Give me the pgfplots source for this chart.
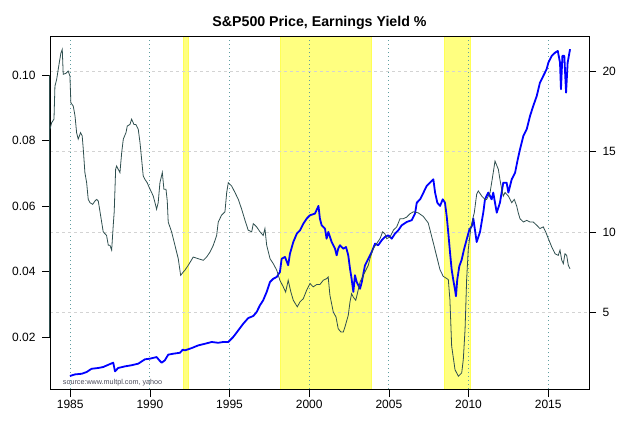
\documentclass[border=0pt]{standalone}
\usepackage{fontspec}
\setmainfont{Liberation Sans}
\usepackage{pgfplots}
\usepackage{pgfplotstable}
\pgfplotsset{compat=1.18}
\definecolor{eyline}{HTML}{2F4F4F}
\definecolor{vgrid}{HTML}{5F9EA0}
\definecolor{hgrid}{HTML}{D3D3D3}
\definecolor{band}{HTML}{FFFF80}
\definecolor{bandedge}{HTML}{FFFF55}
\definecolor{srcgray}{HTML}{4A4A5A}

% earnings yield (left axis)
\pgfplotstableread{
year ey
1983.73 0.0835
1983.83 0.0855
1983.98 0.0866
1984.04 0.0967
1984.15 0.0988
1984.31 0.1038
1984.42 0.1069
1984.50 0.1079
1984.56 0.1003
1984.73 0.1006
1984.87 0.1013
1984.98 0.0998
1985.04 0.0916
1985.19 0.0906
1985.30 0.0876
1985.40 0.0825
1985.50 0.0805
1985.65 0.0825
1985.75 0.0815
1985.82 0.0774
1985.92 0.0703
1986.03 0.0672
1986.13 0.0621
1986.24 0.0611
1986.41 0.0606
1986.55 0.0616
1986.66 0.0621
1986.76 0.0616
1986.86 0.0586
1987.07 0.0522
1987.28 0.0511
1987.39 0.0481
1987.49 0.0481
1987.60 0.0466
1987.70 0.0542
1987.76 0.0583
1987.85 0.0713
1987.91 0.0723
1988.01 0.0713
1988.12 0.0703
1988.23 0.0764
1988.33 0.0805
1988.50 0.0825
1988.58 0.0845
1988.75 0.0850
1988.85 0.0866
1989.00 0.0850
1989.12 0.0850
1989.27 0.0835
1989.38 0.0794
1989.48 0.0744
1989.58 0.0693
1989.69 0.0682
1989.83 0.0672
1989.96 0.0657
1990.11 0.0642
1990.21 0.0631
1990.32 0.0611
1990.42 0.0591
1990.52 0.0611
1990.63 0.0672
1990.78 0.0703
1990.88 0.0652
1991.01 0.0652
1991.09 0.0616
1991.15 0.0552
1991.36 0.0522
1991.57 0.0481
1991.78 0.0440
1991.93 0.0389
1992.09 0.0399
1992.20 0.0405
1992.41 0.0420
1992.72 0.0445
1993.03 0.0440
1993.35 0.0435
1993.56 0.0445
1993.77 0.0460
1993.98 0.0481
1994.19 0.0511
1994.29 0.0552
1994.50 0.0573
1994.71 0.0583
1994.82 0.0642
1994.92 0.0672
1995.13 0.0662
1995.34 0.0642
1995.55 0.0621
1995.76 0.0591
1995.97 0.0557
1996.17 0.0527
1996.39 0.0522
1996.49 0.0547
1996.70 0.0537
1996.91 0.0522
1997.11 0.0511
1997.22 0.0532
1997.33 0.0481
1997.54 0.0440
1997.74 0.0425
1997.96 0.0405
1998.16 0.0374
1998.37 0.0354
1998.52 0.0338
1998.68 0.0374
1998.85 0.0338
1999.00 0.0313
1999.25 0.0293
1999.42 0.0308
1999.63 0.0318
1999.84 0.0344
2000.05 0.0364
2000.25 0.0354
2000.47 0.0361
2000.67 0.0361
2000.88 0.0374
2001.09 0.0379
2001.19 0.0384
2001.30 0.0328
2001.51 0.0277
2001.68 0.0262
2001.82 0.0226
2001.99 0.0216
2002.14 0.0216
2002.24 0.0231
2002.45 0.0267
2002.56 0.0308
2002.66 0.0333
2002.76 0.0323
2002.92 0.0313
2003.02 0.0333
2003.19 0.0369
2003.39 0.0389
2003.71 0.0420
2003.81 0.0440
2004.02 0.0471
2004.23 0.0486
2004.44 0.0501
2004.61 0.0522
2004.75 0.0516
2004.86 0.0501
2005.07 0.0506
2005.28 0.0527
2005.49 0.0537
2005.70 0.0562
2005.90 0.0562
2006.12 0.0567
2006.32 0.0577
2006.53 0.0583
2006.84 0.0580
2007.16 0.0569
2007.47 0.0549
2007.79 0.0488
2008.00 0.0447
2008.21 0.0406
2008.41 0.0386
2008.58 0.0381
2008.73 0.0376
2008.83 0.0315
2008.94 0.0173
2009.15 0.0101
2009.36 0.0081
2009.57 0.0091
2009.67 0.0132
2009.78 0.0223
2009.88 0.0376
2009.98 0.0467
2010.13 0.0529
2010.30 0.0569
2010.36 0.0580
2010.51 0.0637
2010.61 0.0647
2010.83 0.0631
2011.03 0.0621
2011.14 0.0621
2011.24 0.0631
2011.35 0.0642
2011.45 0.0672
2011.55 0.0703
2011.66 0.0738
2011.87 0.0713
2011.97 0.0682
2012.08 0.0652
2012.18 0.0631
2012.29 0.0642
2012.50 0.0631
2012.71 0.0611
2012.87 0.0621
2013.02 0.0601
2013.12 0.0580
2013.23 0.0562
2013.44 0.0552
2013.65 0.0557
2013.86 0.0552
2014.06 0.0552
2014.28 0.0542
2014.48 0.0532
2014.69 0.0537
2014.84 0.0522
2015.01 0.0501
2015.22 0.0476
2015.43 0.0455
2015.63 0.0450
2015.74 0.0466
2015.85 0.0435
2015.95 0.0425
2016.05 0.0455
2016.16 0.0450
2016.26 0.0420
2016.37 0.0409
}\eytable

% price / 100 (right axis)
\pgfplotstableread{
year price
1984.98 1.03
1985.30 1.13
1985.72 1.17
1986.03 1.28
1986.34 1.48
1986.76 1.53
1987.07 1.59
1987.39 1.73
1987.70 1.86
1987.81 1.32
1988.01 1.53
1988.43 1.63
1988.85 1.70
1989.27 1.80
1989.69 2.07
1990.00 2.11
1990.42 2.21
1990.59 2.01
1990.74 1.86
1990.94 2.01
1991.15 2.36
1991.47 2.42
1991.89 2.48
1992.06 2.67
1992.20 2.63
1992.62 2.77
1993.04 2.94
1993.46 3.04
1993.88 3.15
1994.29 3.10
1994.60 3.15
1994.92 3.15
1995.23 3.46
1995.55 3.88
1995.86 4.29
1996.17 4.64
1996.49 4.77
1996.70 5.02
1996.91 5.44
1997.11 5.75
1997.33 6.27
1997.54 6.89
1997.74 7.09
1997.96 7.20
1998.16 7.51
1998.27 8.34
1998.48 8.45
1998.68 7.93
1998.79 8.65
1999.00 9.38
1999.22 9.90
1999.42 10.11
1999.63 10.52
1999.84 10.84
2000.05 11.05
2000.36 11.15
2000.58 11.63
2000.67 10.84
2000.78 10.42
2000.99 10.21
2001.09 9.59
2001.20 10.01
2001.41 9.38
2001.62 8.96
2001.72 8.55
2001.82 8.96
2001.93 9.18
2002.14 8.96
2002.31 9.07
2002.45 8.55
2002.56 7.72
2002.66 7.09
2002.77 6.27
2002.87 7.31
2002.98 6.89
2003.19 6.47
2003.30 6.89
2003.50 7.93
2003.71 8.34
2003.92 8.76
2004.13 9.28
2004.33 9.18
2004.55 9.49
2004.75 9.69
2004.96 9.80
2005.18 9.59
2005.38 9.90
2005.59 10.11
2005.80 10.42
2006.12 10.63
2006.43 10.74
2006.64 11.15
2006.75 11.83
2006.96 12.04
2007.17 12.46
2007.37 12.87
2007.58 13.08
2007.79 13.29
2007.90 12.46
2008.04 11.83
2008.21 11.63
2008.38 12.04
2008.52 11.83
2008.63 10.98
2008.73 9.94
2008.84 8.70
2008.94 7.66
2009.04 7.03
2009.15 6.41
2009.21 6.00
2009.29 7.03
2009.42 7.87
2009.57 8.28
2009.71 8.90
2009.88 9.53
2010.05 10.15
2010.20 10.36
2010.30 10.84
2010.51 9.38
2010.72 10.01
2010.93 11.25
2011.03 12.04
2011.24 12.46
2011.45 12.04
2011.55 12.46
2011.66 11.83
2011.77 11.21
2011.97 11.83
2012.18 13.08
2012.39 13.08
2012.50 12.46
2012.71 13.29
2012.92 13.70
2013.09 14.54
2013.23 15.16
2013.44 15.99
2013.65 16.41
2013.86 17.24
2014.06 17.86
2014.28 18.48
2014.48 19.31
2014.69 19.73
2014.90 20.15
2015.01 20.56
2015.22 20.98
2015.43 21.18
2015.60 21.29
2015.74 20.56
2015.80 18.90
2015.89 20.98
2016.01 20.98
2016.12 18.69
2016.22 20.56
2016.37 21.40
}\pricetable

\pgfplotsset{
  chartbase/.style={
    at={(50pt,37pt)}, anchor=south west,
    scale only axis, width=539pt, height=353pt,
    xmin=1983.73, xmax=2017.56,
    tick align=outside,
    every tick/.style={black, line width=0.75pt},
    axis line style={black, line width=0.75pt},
    tick label style={font=\fontsize{12}{14}\selectfont},
    /pgf/number format/assume math mode=true,
  }
}

\begin{document}
\begin{tikzpicture}
\path[use as bounding box] (0pt,0pt) rectangle (640pt,426pt);

% price axis (right), bands, grid, blue line
\begin{axis}[chartbase,
  ymin=0.22, ymax=22.22,
  axis x line=none,
  axis y line*=right,
  ytick={5,10,15,20},
  yticklabels={5,10,15,20},
  yticklabel style={xshift=3pt},
  major tick length=7pt,
]
\fill[band, draw=bandedge, line width=0.6pt] (axis cs:1992.10,0.22) rectangle (axis cs:1992.38,22.22);
\fill[band, draw=bandedge, line width=0.6pt] (axis cs:1998.19,0.22) rectangle (axis cs:2003.89,22.22);
\fill[band, draw=bandedge, line width=0.6pt] (axis cs:2008.46,0.22) rectangle (axis cs:2010.10,22.22);
\pgfplotsinvokeforeach{1985,1990,1995,2000,2005,2010,2015}{
  \draw[vgrid, line width=0.8pt, dash pattern=on 1.2pt off 2.8pt] (axis cs:#1,0.22) -- (axis cs:#1,22.22);
}
\pgfplotsinvokeforeach{5,10,15,20}{
  \draw[hgrid, line width=0.75pt, dash pattern=on 3pt off 3pt] (axis cs:1983.73,#1) -- (axis cs:2017.56,#1);
}
\addplot[blue, line width=1.8pt, line join=round] table[x=year, y=price] {\pricetable};
\end{axis}

% earnings yield axis (left), box, black line
\begin{axis}[chartbase,
  ymin=0.0042, ymax=0.112,
  xtick={1985,1990,1995,2000,2005,2010,2015},
  xticklabels={1985,1990,1995,2000,2005,2010,2015},
  ytick={0.02,0.04,0.06,0.08,0.10},
  yticklabels={0.02,0.04,0.06,0.08,0.10},
  yticklabel style={xshift=-3pt},
  xtick pos=left, ytick pos=left,
  major tick length=8pt,
  clip=false,
]
\addplot[eyline, line width=0.8pt] table[x=year, y=ey] {\eytable};
\draw[eyline, line width=1pt] (axis cs:1983.73,0.02) -- (axis cs:1983.73,0.10);
\end{axis}

\node[anchor=base, font=\fontsize{14.2}{17}\selectfont\bfseries] at (319.5pt,399.3pt) {S\&P500 Price, Earnings Yield \%};
\node[anchor=west, inner sep=0pt, text=srcgray, font=\fontsize{7.2}{8}\selectfont] at (62.7pt,43.3pt) {source:www.multpl.com, yahoo};
\end{tikzpicture}
\end{document}
